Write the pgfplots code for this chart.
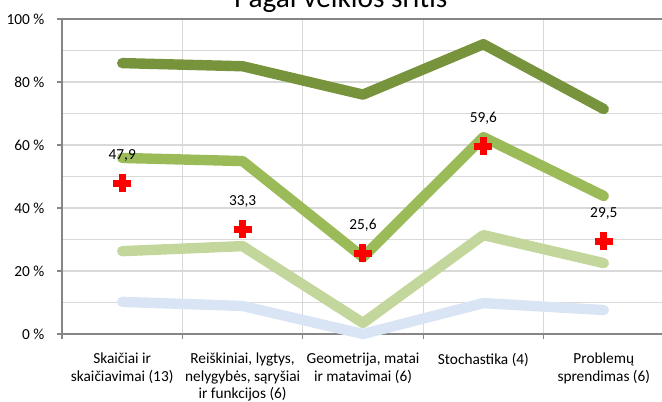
\documentclass[border=0pt]{standalone}
\usepackage{fontspec}
\setmainfont{Carlito}
\usepackage{pgfplots}
\pgfplotsset{compat=1.18}
\definecolor{dkgreen}{HTML}{77933C}
\definecolor{mdgreen}{HTML}{9BBB59}
\definecolor{ltgreen}{HTML}{C3D69B}
\definecolor{ltblue}{HTML}{D9E5F4}
\definecolor{gridgray}{HTML}{D9D9D9}
\definecolor{axisgray}{HTML}{868686}
\begin{document}
\begin{tikzpicture}
\begin{axis}[
  scale only axis, width=451.5pt, height=236.25pt,
  xmin=-0.5, xmax=4.5, ymin=0, ymax=100,
  clip=false,
  xtick={0,1,2,3,4},
  xticklabels={{Skaičiai ir\\skaičiavimai (13)},{Reiškiniai, lygtys,\\nelygybės, sąryšiai\\ir funkcijos (6)},{Geometrija, matai\\ir matavimai (6)},{Stochastika (4)},{Problemų\\sprendimas (6)}},
  minor xtick={-0.5,0.5,1.5,2.5,3.5,4.5},
  ytick={0,20,40,60,80,100},
  yticklabels={0 \%,20 \%,40 \%,60 \%,80 \%,100 \%},
  minor ytick={10,30,50,70,90},
  xmajorgrids=false, xminorgrids=true, ymajorgrids=true, yminorgrids=true,
  grid style={gridgray, line width=0.8pt},
  major grid style={gridgray, line width=0.8pt},
  minor grid style={gridgray, line width=0.8pt},
  axis line style={axisgray, line width=1.1pt},
  tick align=outside, xtick pos=bottom, ytick pos=left,
  major tick length=3.75pt, minor tick length=3.75pt,
  major x tick style={draw=none},
  minor y tick style={draw=none},
  every tick/.style={axisgray, line width=0.8pt},
  minor x tick style={axisgray, line width=0.8pt},
  major y tick style={axisgray, line width=0.8pt},
  tick label style={font=\fontsize{11.5}{13.2}\selectfont, text=black},
  x tick label style={align=center, anchor=north, yshift=-7pt},
  y tick label style={xshift=-6pt},
  /pgf/number format/assume math mode=true,
  title={Pagal veiklos sritis},
  title style={at={(0.463,1)}, anchor=base, yshift=2.5pt, font=\fontsize{22}{26}\selectfont},
]
\coordinate (ll) at (rel axis cs:0,0);
\addplot[ltblue, line width=7.8pt, line cap=round, line join=round] coordinates {(0,10.2)(1,8.9)(2,0)(3,9.8)(4,7.6)};
\addplot[ltgreen, line width=7.8pt, line cap=round, line join=round] coordinates {(0,26.3)(1,27.9)(2,3.5)(3,31.4)(4,22.5)};
\addplot[mdgreen, line width=7.8pt, line cap=round, line join=round] coordinates {(0,55.9)(1,54.9)(2,24.4)(3,62.5)(4,43.8)};
\addplot[dkgreen, line width=7.8pt, line cap=round, line join=round] coordinates {(0,86)(1,85)(2,76)(3,92)(4,71.4)};
\addplot[only marks, red, mark=+, mark size=6.75pt, mark options={line width=5.25pt, line cap=butt},
  point meta=explicit,
  nodes near coords={\pgfmathprintnumber[fixed,fixed zerofill,precision=1,use comma,assume math mode=true]{\pgfplotspointmeta}},
  every node near coord/.append style={text=black, anchor=center, yshift=21pt, font=\fontsize{11.5}{14}\selectfont}]
  coordinates {(0,47.9)[47.9] (1,33.3)[33.3] (2,25.6)[25.6] (3,59.6)[59.6] (4,29.5)[29.5]};
\end{axis}
\pgfresetboundingbox
\path (ll) ++(-46.5pt,-50.25pt) rectangle ++(496.5pt,300.75pt);
\end{tikzpicture}
\end{document}
